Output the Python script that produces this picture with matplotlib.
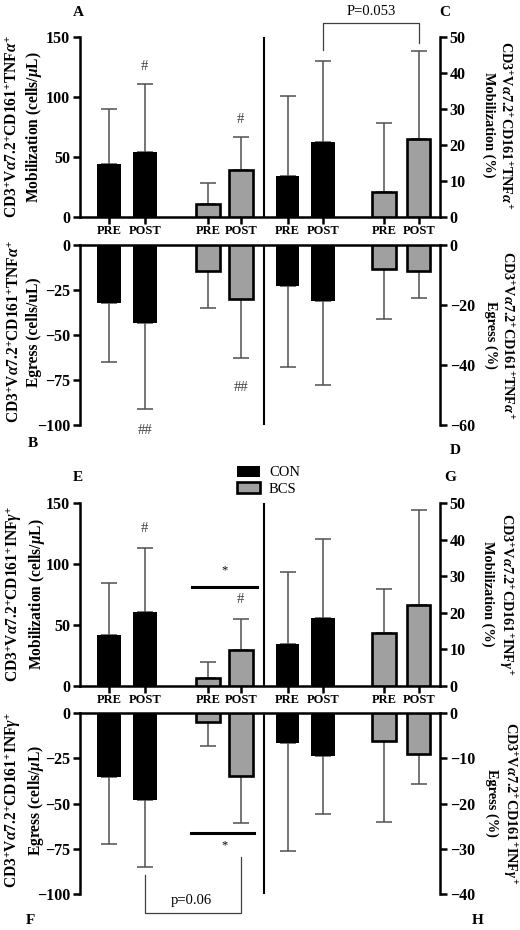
import matplotlib
matplotlib.use("Agg")
import matplotlib.pyplot as plt
from matplotlib.patches import Patch

plt.rcParams['font.family'] = 'Liberation Serif'
plt.rcParams['mathtext.fontset'] = 'custom'
plt.rcParams['mathtext.rm'] = 'Liberation Serif:bold'
plt.rcParams['mathtext.it'] = 'Liberation Serif:italic:bold'
plt.rcParams['mathtext.bf'] = 'Liberation Serif:bold'

# data (mean, SD), order: CON PRE, CON POST, BCS PRE, BCS POST
groups = ['CON', 'BCS']
timepoints = ['PRE', 'POST', 'PRE', 'POST']

tnf_mob_cells = [44, 54, 11, 39]
tnf_mob_cells_sd = [46, 57, 17, 28]
tnf_egr_cells = [-32, -43.5, -14.3, -30]
tnf_egr_cells_sd = [33, 47.5, 20.7, 33]
tnf_mob_pct = [11.3, 20.9, 6.9, 21.7]
tnf_mob_pct_sd = [22.4, 22.4, 19.2, 24.5]
tnf_egr_pct = [-13.7, -18.7, -8.0, -8.8]
tnf_egr_pct_sd = [27, 27.8, 16.7, 9]

ifn_mob_cells = [41.8, 60.4, 6.6, 29.5]
ifn_mob_cells_sd = [42.9, 52.6, 13.4, 25.1]
ifn_egr_cells = [-35.1, -48.2, -5.0, -34.6]
ifn_egr_cells_sd = [37.2, 36.8, 13.1, 26.4]
ifn_mob_pct = [11.4, 18.5, 14.4, 22.0]
ifn_mob_pct_sd = [19.7, 21.7, 12.2, 26.1]
ifn_egr_pct = [-6.7, -9.5, -6.1, -9.0]
ifn_egr_pct_sd = [23.9, 12.9, 18.0, 6.7]

# layout
left_x = [0.8, 1.8, 3.55, 4.47]
right_x = [5.77, 6.75, 8.44, 9.41]
divider = 5.12
bar_w = 0.65
grey = '#a0a0a0'
err_col = '#505050'
lw = 1.8

tnf = r'CD3$^{+}$V$\alpha$7.2$^{+}$CD161$^{+}$TNF$\alpha^{+}$'
ifn = r'CD3$^{+}$V$\alpha$7.2$^{+}$CD161$^{+}$INF$\gamma^{+}$'

fig = plt.figure(figsize=(5.2, 9.3), dpi=100)
W, H = 520, 930


def fx(px):
    return px / W


def fy(py):
    return 1 - py / H


def draw_bars(ax, xs, means, sds):
    for i, (x, m, s) in enumerate(zip(xs, means, sds)):
        con = i < 2
        ax.bar(x, m, bar_w, color='black' if con else grey, edgecolor='black',
               linewidth=0 if con else 1.9, zorder=3)
        yerr = [[0], [s]] if m >= 0 else [[s], [0]]
        ax.errorbar(x, m, yerr=yerr, fmt='none', ecolor=err_col, elinewidth=1.1,
                    capsize=6, capthick=1.1, zorder=2)


def style(ax):
    for sp in ax.spines.values():
        sp.set_linewidth(lw)
    ax.tick_params(axis='y', direction='out', length=5, width=lw, labelsize=11.5, pad=2)
    for t in ax.get_yticklabels():
        t.set_fontweight('bold')


def make_half(top_a, bot_a, top_b, bot_b, mob_l, mob_l_sd, egr_l, egr_l_sd,
              mob_r, mob_r_sd, egr_r, egr_r_sd, r_egr_lim, r_egr_ticks):
    ax1 = fig.add_axes([fx(80), fy(bot_a), fx(360), fy(top_a) - fy(bot_a)])
    ax1r = ax1.twinx()
    ax2 = fig.add_axes([fx(80), fy(bot_b), fx(360), fy(top_b) - fy(bot_b)])
    ax2r = ax2.twinx()
    for ax in (ax1, ax1r, ax2, ax2r):
        ax.set_xlim(0, 10)
        ax.patch.set_alpha(0)
    ax1.set_ylim(0, 150)
    ax1.set_yticks([0, 50, 100, 150])
    ax1r.set_ylim(0, 50)
    ax1r.set_yticks([0, 10, 20, 30, 40, 50])
    ax2.set_ylim(-100, 0)
    ax2.set_yticks([-100, -75, -50, -25, 0])
    ax2r.set_ylim(r_egr_lim, 0)
    ax2r.set_yticks(r_egr_ticks)

    ax1.spines[['top', 'right']].set_visible(False)
    ax1r.spines[['top', 'left', 'bottom']].set_visible(False)
    ax2.spines[['bottom', 'right']].set_visible(False)
    ax2r.spines[['bottom', 'left', 'top']].set_visible(False)
    for ax in (ax1, ax1r, ax2, ax2r):
        style(ax)

    ax1.set_xticks(left_x + right_x)
    ax1.set_xticklabels(timepoints + timepoints, fontweight='bold', fontsize=9)
    ax1.tick_params(axis='x', direction='out', length=5, width=lw, pad=1)
    ax2.tick_params(axis='x', bottom=False, labelbottom=False)
    ax1r.tick_params(axis='x', bottom=False, labelbottom=False)
    ax2r.tick_params(axis='x', bottom=False, labelbottom=False)

    ax1.axvline(divider, color='black', lw=1.5)
    ax2.axvline(divider, color='black', lw=1.5)

    draw_bars(ax1, left_x, mob_l, mob_l_sd)
    draw_bars(ax1r, right_x, mob_r, mob_r_sd)
    draw_bars(ax2, left_x, egr_l, egr_l_sd)
    draw_bars(ax2r, right_x, egr_r, egr_r_sd)
    return ax1, ax1r, ax2, ax2r


a, c, b, d = make_half(37, 217, 245, 425,
                       tnf_mob_cells, tnf_mob_cells_sd, tnf_egr_cells, tnf_egr_cells_sd,
                       tnf_mob_pct, tnf_mob_pct_sd, tnf_egr_pct, tnf_egr_pct_sd,
                       -60, [-60, -40, -20, 0])
e, g, f, h = make_half(503, 686, 713, 894,
                       ifn_mob_cells, ifn_mob_cells_sd, ifn_egr_cells, ifn_egr_cells_sd,
                       ifn_mob_pct, ifn_mob_pct_sd, ifn_egr_pct, ifn_egr_pct_sd,
                       -40, [-40, -30, -20, -10, 0])

# annotations
hash_kw = dict(ha='center', va='center', fontsize=10.5, color='#404040', clip_on=False)
a.text(left_x[1], 125, '#', **hash_kw)
a.text(left_x[3], 81, '#', **hash_kw)
b.text(left_x[1], -103, '##', **hash_kw)
b.text(left_x[3], -79, '##', **hash_kw)
e.text(left_x[1], 129.5, '#', **hash_kw)
e.text(left_x[3], 70.5, '#', **hash_kw)

# P=0.053 bracket
c.plot([right_x[1], right_x[1], right_x[3], right_x[3]], [46.4, 53.9, 53.9, 48.3],
       color='#404040', lw=0.9, clip_on=False)
c.text((right_x[1] + right_x[3]) / 2, 57.0, 'P=0.053', ha='center', va='center',
       fontsize=10.5, clip_on=False)

# significance bars
e.plot([left_x[2] - 0.45, left_x[3] + 0.45], [81.4, 81.4], color='black', lw=2.2, clip_on=False)
e.text((left_x[2] + left_x[3]) / 2, 95, '*', ha='center', va='center', fontsize=9)
f.plot([left_x[2] - 0.48, left_x[3] + 0.37], [-66.2, -66.2], color='black', lw=2.2, clip_on=False)
f.text((left_x[2] + left_x[3]) / 2, -73, '*', ha='center', va='center', fontsize=9)

# p=0.06 bracket
f.plot([left_x[1], left_x[1], left_x[3], left_x[3]], [-89.5, -110.6, -110.6, -79.5],
       color='#404040', lw=0.9, clip_on=False)
f.text((left_x[1] + left_x[3]) / 2 - 0.05, -103.5, 'p=0.06', ha='center', va='center',
       fontsize=10.5, clip_on=False)

# axis titles
left_kw = dict(ha='center', va='center', fontsize=11.2, fontweight='bold', linespacing=1.25)
right_kw = dict(ha='center', va='center', fontsize=10.3, fontweight='bold', linespacing=1.15)
fig.text(fx(24), fy(127), tnf + '\nMobilization (cells/$\\mu$L)', rotation=90, **left_kw)
fig.text(fx(24), fy(332), tnf + '\nEgress (cells/uL)', rotation=90, **left_kw)
fig.text(fx(25), fy(594), ifn + '\nMobilization (cells/$\\mu$L)', rotation=90, **left_kw)
fig.text(fx(24), fy(800), ifn + '\nEgress (cells/$\\mu$L)', rotation=90, **left_kw)
fig.text(fx(497), fy(125), tnf + '\nMobilization (%)', rotation=270, **right_kw)
fig.text(fx(499), fy(335), tnf + '\nEgress (%)', rotation=270, **right_kw)
fig.text(fx(498), fy(594), ifn + '\nMobilization (%)', rotation=270, **right_kw)
fig.text(fx(502), fy(803), ifn + '\nEgress (%)', rotation=270, **right_kw)

# panel letters
for letter, px, py in [('A', 78, 13), ('C', 445, 12), ('B', 33, 443), ('D', 455, 451),
                       ('E', 78, 477), ('G', 450, 477), ('F', 30, 920), ('H', 478, 920)]:
    fig.text(fx(px), fy(py), letter, ha='center', va='center', fontsize=11, fontweight='bold')

# legend
handles = [Patch(facecolor='black', edgecolor='black', linewidth=0),
           Patch(facecolor=grey, edgecolor='black', linewidth=1.9)]
fig.legend(handles, groups, loc='upper left', bbox_to_anchor=(fx(237), fy(466)),
           frameon=False, fontsize=10.5, handlelength=1.6, handleheight=0.75,
           handletextpad=0.6, labelspacing=0.2, borderpad=0, borderaxespad=0)

fig.savefig('out.png', dpi=100)
